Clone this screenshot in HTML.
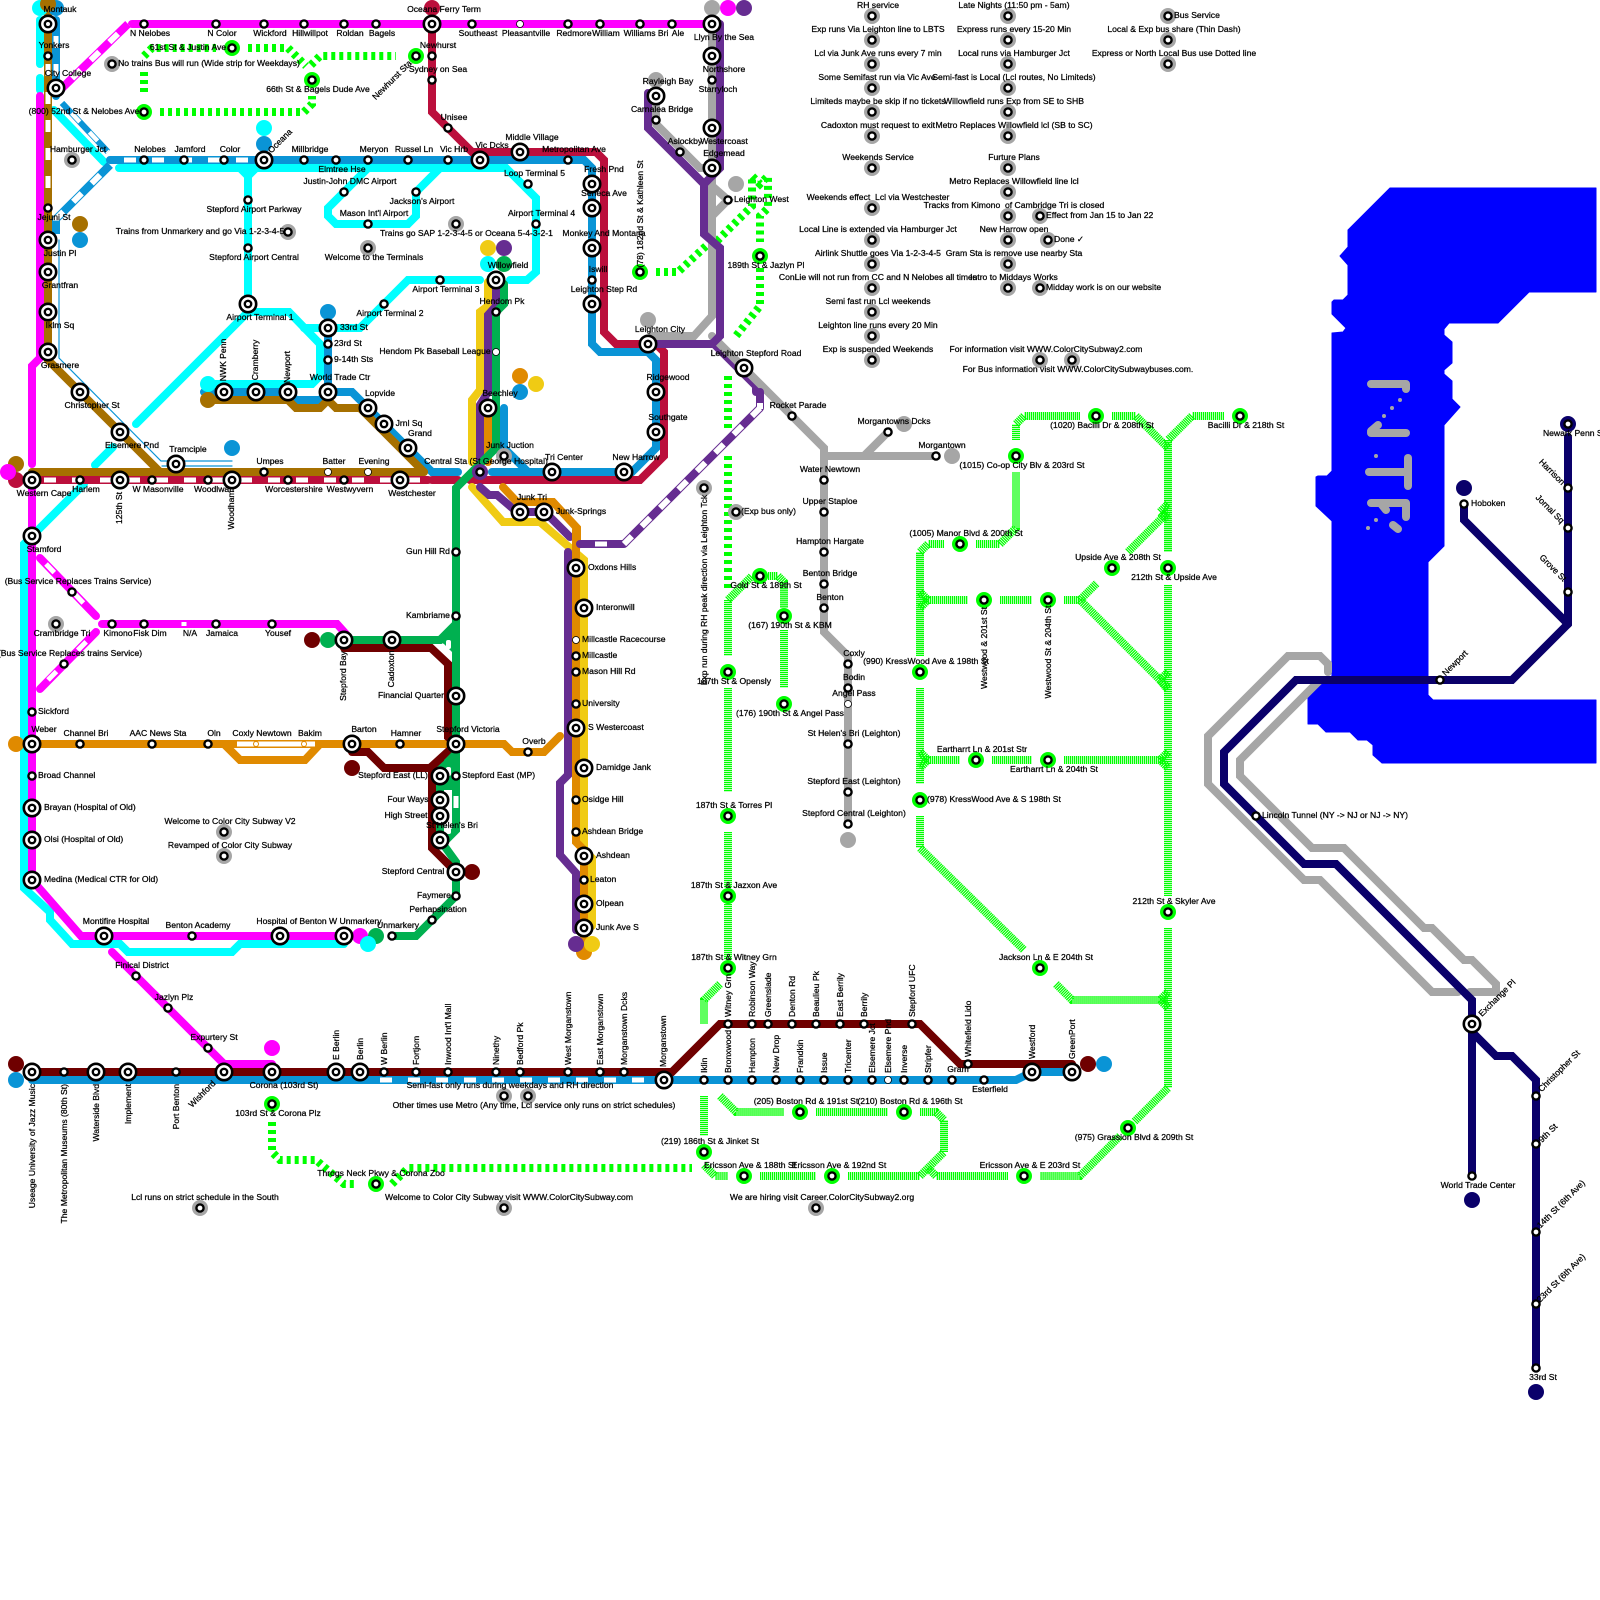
<!DOCTYPE html>
<html><head><meta charset="utf-8"><title>Color City Subway</title>
<style>
html,body{margin:0;padding:0;background:#fff}
svg{display:block}
text{font-family:"Liberation Sans",Arial,sans-serif;font-size:8.6px;fill:#000;stroke:#000;stroke-width:.25;text-anchor:middle}
.s{text-anchor:start}.e{text-anchor:end}
.l path,.l polyline{fill:none;stroke-linecap:round;stroke-linejoin:miter;stroke-width:8}
.d path{fill:none;stroke:#0f0;stroke-width:8;stroke-dasharray:4 4}
.f path{fill:none;stroke:#0f0;stroke-width:8;stroke-dasharray:1.3 .7}
.w path{fill:none;stroke:#fff;stroke-width:5;stroke-dasharray:12 16}
.t path{fill:none;stroke-width:6.4}
</style></head><body>
<svg xmlns="http://www.w3.org/2000/svg" width="1600" height="1600" viewBox="0 0 1600 1600">
<defs>
<g id="b"><circle r="8.2" fill="#fff" stroke="#000" stroke-width="2.6"/><circle r="3.2" fill="#fff" stroke="#000" stroke-width="2.4"/></g>
<g id="m"><circle r="3.6" fill="#fff" stroke="#000" stroke-width="2.4"/></g>
<g id="o"><circle r="3.5" fill="#fff" stroke="#000" stroke-width=".8"/></g>
<g id="g"><circle r="8" fill="#0f0"/><circle r="3.6" fill="#fff" stroke="#000" stroke-width="2.4"/></g>
<g id="a"><circle r="8" fill="#a6a6a6"/><circle r="3.6" fill="#fff" stroke="#000" stroke-width="2.4"/></g>
</defs>
<rect width="1600" height="1600" fill="#fff"/>

<!-- water -->
<path fill="#0000ff" stroke="#0000ff" stroke-width="1" stroke-linejoin="round" d="M1390 188H1596V292H1529L1498 323H1449L1444 329V335L1452 342V363L1444 370V374L1452 381V399L1460 407L1444 425V546L1428 562V695L1433 700H1596V763H1392L1382 763L1373 755V745L1367 740H1358L1350 732H1326L1318 724H1308V693L1317 684L1332 676V521L1316 506V477L1318 476H1327L1332 471V333L1343 332L1346 328L1332 314V302L1334 300H1343L1348 295V265L1340 256L1348 247V230Z"/>
<g fill="none" stroke="#a6a6a6" stroke-width="8" stroke-linejoin="round" stroke-linecap="round">
<path d="M1371 384H1406V389"/><path d="M1371 433H1406"/><path d="M1371 431L1378 425"/>
<path d="M1369 472H1407"/><path d="M1408 458V486"/><path d="M1371 503H1406V517"/><path d="M1382 505L1386 510"/><path d="M1393 525L1398 529"/>
</g>
<g fill="#a6a6a6"><circle cx="1400" cy="400" r="2"/><circle cx="1392" cy="408" r="2"/><circle cx="1384" cy="416" r="2"/><circle cx="1376" cy="456" r="2"/><circle cx="1376" cy="520" r="2"/><circle cx="1368" cy="528" r="2"/></g>

<!-- dotted / hatched -->
<g class="f">
<path d="M1016 440V424L1024 416H1080"/><path d="M1112 416H1136L1168 448"/><path d="M1224 416H1192L1168 440V552"/><path d="M1168 585V896"/><path d="M1168 928V1088L1134 1122"/>
<path d="M1120 1136L1080 1176H1040"/><path d="M1008 1176H936L928 1168"/><path d="M848 1176H920L944 1152V1120L936 1112H920"/><path d="M760 1176H816"/>
<path d="M704 1165L715 1176H728"/><path d="M720 1096L736 1112H784"/><path d="M816 1112H888"/><path d="M704 1096V1136"/>
<path d="M944 544H928L920 552V656"/><path d="M920 688V784"/><path d="M920 816V848L1024 950"/><path d="M1056 984L1072 1000H1168"/>
<path d="M976 544H1000L1016 528V472"/><path d="M924 600H968"/><path d="M1000 600H1032"/><path d="M1064 600H1080L1097 583"/><path d="M1080 600L1168 688"/><path d="M1128 552L1168 512"/>
<path d="M920 592L928 600L920 608"/><path d="M920 752L928 760L920 768"/><path d="M1168 672L1160 680L1168 690"/><path d="M1168 504L1160 512L1168 520"/><path d="M1168 752L1160 760L1168 768"/><path d="M1168 1008L1160 1000L1168 992"/>
<path d="M924 760H960"/><path d="M992 760H1032"/><path d="M1064 760H1164"/>
<path d="M728 600V656"/><path d="M728 688V792"/><path d="M728 832V888"/><path d="M728 904V960"/><path d="M720 984L704 1000V1024"/>
<path d="M728 600L752 576"/><path d="M768 576H778L784 582V608"/><path d="M784 630V688"/>
</g>
<g class="d">
<path d="M144 56L152 48H216"/><path d="M248 48H288L306 66"/><path d="M311 65L320 56H396"/><path d="M144 72V92"/><path d="M160 112H304L312 104V96"/>
<path d="M656 272H678L706 246"/><path d="M717 241L752 206V176L760 184L768 176V208L760 216V242"/><path d="M760 268V306L736 336"/>
<path d="M728 376V428"/><path d="M728 456V588"/>
<path d="M272 1122V1152L280 1160H316L344 1184H356"/><path d="M392 1184L408 1168H692"/>
</g>

<g class="l">
<!-- purple under grey -->
<path stroke="#662d91" d="M714 344L756 386V392"/>
<!-- gray -->
<path stroke="#a6a6a6" d="M712 24V316L694 336H652"/>
<path stroke="#a6a6a6" d="M656 124L700 168H712"/>
<path stroke="#a6a6a6" d="M656 96V124"/>
<path stroke="#a6a6a6" d="M712 186L728 200L712 216"/>
<path stroke="#a6a6a6" d="M712 336L824 448V632L848 656V824"/>
<path stroke="#a6a6a6" d="M824 456H936"/>
<path stroke="#a6a6a6" d="M864 456L888 432"/>
<path stroke="#a6a6a6" d="M1328 672V664L1320 656H1288L1208 736V784L1304 880H1320L1432 992H1458"/>
<path stroke="#a6a6a6" d="M1470 992H1496V984L1472 960H1464L1432 928H1424L1344 848H1312L1240 776V760L1320 680"/>
<!-- navy -->
<path stroke="#0a006a" d="M1568 437V624L1512 680H1296L1224 752V784L1304 864H1336L1472 1000V1176"/>
<path stroke="#0a006a" d="M1464 504V520L1568 624"/>
<path stroke="#0a006a" d="M1472 1032L1496 1056H1512L1536 1080V1368"/>
<!-- cyan -->
<path stroke="#0ff" d="M40 20V64"/><path stroke="#0ff" d="M40 78V90"/>
<path stroke="#0ff" d="M119 168H506L536 198V272L527 280H510"/>
<path stroke="#0ff" d="M240 168L248 176V304"/><path stroke="#0ff" d="M256 168L248 176"/>
<path stroke="#0ff" d="M440 168L416 192V216L408 224H336L328 216V208L368 168"/>
<path stroke="#0ff" d="M248 312H289L320 344V376L312 384H208"/>
<path stroke="#0ff" d="M304 328H360L408 280H480"/>
<path stroke="#0ff" d="M36 532L84 484"/><path stroke="#0ff" d="M95 465L113 447"/><path stroke="#0ff" d="M136 424L248 312"/>
<path stroke="#0ff" d="M54 110L104 162"/>
<path stroke="#0ff" d="M32 536L24 544V888L50 912V920L72 944H120L128 952H232L240 944H344"/>
<!-- blue -->
<path stroke="#0a94d6" d="M56 20V96"/>
<path stroke="#0a94d6" d="M110 160H584L592 168V344L600 352H648L656 360V448L632 472H492"/>
<path stroke="#0a94d6" d="M328 320V392"/>
<path stroke="#0a94d6" d="M204 392H288L296 400H320L328 392H352L432 472H458"/>
<path stroke="#0a94d6" d="M504 408V448L528 472"/>
<path stroke="#0a94d6" d="M32 1080H664"/>
<path stroke="#0a94d6" d="M672 1080H1016L1032 1072H1072"/>
<path stroke="#0a94d6" d="M59 240V358L161 461H232" style="stroke-width:1.2"/>
<path stroke="#0a94d6" d="M162 466H232" style="stroke-width:1.2"/>
<!-- magenta -->
<path stroke="#f0f" d="M132 24H712"/>
<path stroke="#f0f" d="M40 96V358L32 366V464"/>
<path stroke="#f0f" d="M32 488V880L81 936H344"/>
<path stroke="#f0f" d="M40 558L96 616"/><path stroke="#f0f" d="M40 689L96 632"/>
<path stroke="#f0f" d="M102 624H337L346 634"/>
<path stroke="#f0f" d="M112 952L224 1064H272"/>
<!-- brown -->
<path stroke="#a67000" d="M48 0V360L160 472"/>
<path stroke="#a67000" d="M32 472H424"/>
<path stroke="#a67000" d="M208 400H288L296 408H320L328 400L336 408H360L424 472"/>
<!-- crimson -->
<path stroke="#bb0f3c" d="M432 24V112L472 152H596L604 160V332L616 344H656L664 352V456L640 480H470"/>
<path stroke="#bb0f3c" d="M32 480H428"/><path stroke="#bb0f3c" d="M432 480H458"/>
<!-- yellow -->
<path stroke="#f0cb14" d="M488 282V306L480 312V390L472 400V462"/>
<path stroke="#f0cb14" d="M472 487L503 522H540L584 560V850L592 858V926"/>
<!-- purple -->
<path stroke="#662d91" d="M496 288V306L488 315V392L480 405V462"/>
<path stroke="#662d91" d="M480 487L489 495H497L517 512H545L570 537"/>
<path stroke="#662d91" d="M720 24V168L704 184V234L720 248V336L712 344H656"/>
<path stroke="#662d91" d="M648 93V128L704 184"/>
<!-- orange -->
<path stroke="#e08a00" d="M488 412V462"/>
<path stroke="#e08a00" d="M503 487L517 502H553L577 528V546"/>
<path stroke="#e08a00" d="M576 530V842L584 850V952"/>
<path stroke="#e08a00" d="M32 744H504L512 752H544L560 736"/>
<path stroke="#e08a00" d="M224 744L240 760H305L320 744"/>
<!-- purple low -->
<path stroke="#662d91" d="M568 552V775L560 783V855L576 873V930"/>
<path stroke="#662d91" d="M580 544H624"/>
<path stroke="#662d91" d="M760 392V408"/>
<!-- green -->
<path stroke="#00b050" d="M504 284V304L496 312V448L456 488V640"/>
<path stroke="#00b050" d="M456 616V744L440 768V840L456 862V896L416 936H392"/>
<path stroke="#00b050" d="M456 744V830L444 842"/>
<path stroke="#00b050" d="M344 640H440L456 624"/>
<!-- dark red -->
<path stroke="#6f0000" d="M344 648H431L448 664V737L456 744"/>
<path stroke="#6f0000" d="M352 752H368L384 768H430L452 748"/>
<path stroke="#6f0000" d="M432 768V848L456 872"/>
<path stroke="#6f0000" d="M32 1072H672L720 1024H920L960 1064H1072"/>
</g>

<!-- green wedges -->
<polygon fill="#00b050" points="436,640 456,620 456,656 444,644"/>
<polygon fill="#00b050" points="444,760 456,748 456,790 444,790"/>
<rect x="446" y="640" width="5" height="9" rx="2" fill="#fff"/>
<rect x="446" y="767" width="5" height="9" rx="2" fill="#fff"/>
<rect x="446" y="826" width="5" height="8" rx="2" fill="#fff"/>

<!-- alternating dashed diagonals: colour / white with thin outline -->
<g fill="none">
<path d="M128 24L58 92" stroke="#f0f" stroke-width="8"/><path d="M128 24L58 92" stroke="#fff" stroke-width="6"/><path d="M128 24L58 92" stroke="#f0f" stroke-width="8" stroke-dasharray="14 12"/>
<path d="M760 408L624 544" stroke="#662d91" stroke-width="8"/><path d="M760 408L624 544" stroke="#fff" stroke-width="6"/><path d="M752 416L624 544" stroke="#662d91" stroke-width="8" stroke-dasharray="14 12"/>
<path d="M110 165L56 219V234" stroke="#0a94d6" stroke-width="8"/><path d="M110 165L56 219V234" stroke="#fff" stroke-width="6"/><path d="M110 165L56 219V234" stroke="#0a94d6" stroke-width="8" stroke-dasharray="14 12"/>
<path d="M62 103L108 152" stroke="#0a94d6" stroke-width="6"/><path d="M62 103L108 152" stroke="#fff" stroke-width="4.4"/><path d="M62 103L108 152" stroke="#0a94d6" stroke-width="6" stroke-dasharray="14 12"/>
</g>

<!-- white dashes -->
<g class="w">
<path d="M48 64V200"/><path d="M56 36V92"/>
<path d="M44 480H428"/>
<path d="M124 160H250"/>
<path d="M380 1080H648"/>
<path d="M595 544H607"/>
<path d="M456 796V808"/>
<path d="M184 622V626"/>
</g>
<g fill="none" stroke="#fff" stroke-width="5" stroke-dasharray="12 30">
<path d="M46 564L92 612"/><path d="M48 680L92 636"/>
</g>
<rect x="757" y="403" width="6" height="6" fill="#fff"/>
<path d="M237 744H315" stroke="#fff" stroke-width="5" fill="none"/>
<circle cx="256" cy="744" r="2.5" fill="#fff" stroke="#e08a00"/><circle cx="304" cy="744" r="2.5" fill="#fff" stroke="#e08a00"/>

<!-- terminals -->
<g>
<circle cx="40" cy="8" r="8" fill="#0ff"/><circle cx="56" cy="8" r="8" fill="#0a94d6"/><circle cx="48" cy="4" r="8" fill="#a67000"/>
<circle cx="432" cy="8" r="8" fill="#bb0f3c"/><circle cx="712" cy="8" r="8" fill="#a6a6a6"/><circle cx="728" cy="8" r="8" fill="#f0f"/><circle cx="744" cy="8" r="8" fill="#662d91"/>
<circle cx="264" cy="128" r="8" fill="#0ff"/><circle cx="264" cy="144" r="8" fill="#0a94d6"/>
<circle cx="80" cy="224" r="8" fill="#a67000"/><circle cx="80" cy="240" r="8" fill="#0a94d6"/>
<circle cx="328" cy="312" r="8" fill="#0a94d6"/>
<circle cx="208" cy="384" r="8" fill="#0ff"/><circle cx="208" cy="400" r="8" fill="#a67000"/>
<circle cx="232" cy="448" r="8" fill="#0a94d6"/>
<circle cx="520" cy="376" r="8" fill="#e08a00"/><circle cx="536" cy="384" r="8" fill="#f0cb14"/><circle cx="520" cy="392" r="8" fill="#0a94d6"/>
<circle cx="488" cy="248" r="8" fill="#f0cb14"/><circle cx="504" cy="248" r="8" fill="#662d91"/><circle cx="488" cy="264" r="8" fill="#0ff"/><circle cx="504" cy="264" r="8" fill="#00b050"/>
<circle cx="16" cy="464" r="8" fill="#a67000"/><circle cx="16" cy="480" r="8" fill="#bb0f3c"/><circle cx="8" cy="472" r="8" fill="#f0f"/>
<circle cx="16" cy="744" r="8" fill="#e08a00"/>
<circle cx="312" cy="640" r="8" fill="#6f0000"/><circle cx="328" cy="640" r="8" fill="#00b050"/>
<circle cx="352" cy="768" r="8" fill="#6f0000"/><circle cx="472" cy="872" r="8" fill="#6f0000"/>
<circle cx="360" cy="936" r="8" fill="#f0f"/><circle cx="376" cy="936" r="8" fill="#00b050"/><circle cx="368" cy="944" r="8" fill="#0ff"/>
<circle cx="16" cy="1064" r="8" fill="#6f0000"/><circle cx="16" cy="1080" r="8" fill="#0a94d6"/>
<circle cx="272" cy="1048" r="8" fill="#f0f"/>
<circle cx="1088" cy="1064" r="8" fill="#6f0000"/><circle cx="1104" cy="1064" r="8" fill="#0a94d6"/>
<circle cx="656" cy="80" r="8" fill="#a6a6a6"/><circle cx="736" cy="184" r="8" fill="#a6a6a6"/><circle cx="648" cy="320" r="8" fill="#a6a6a6"/>
<circle cx="904" cy="424" r="8" fill="#a6a6a6"/><circle cx="952" cy="456" r="8" fill="#a6a6a6"/><circle cx="848" cy="840" r="8" fill="#a6a6a6"/>
<circle cx="584" cy="952" r="8" fill="#e08a00"/><circle cx="576" cy="944" r="8" fill="#662d91"/><circle cx="592" cy="944" r="8" fill="#f0cb14"/>
<circle cx="480" cy="472" r="8" fill="#662d91"/>
<circle cx="1568" cy="424" r="8" fill="#0a006a"/><circle cx="1464" cy="488" r="8" fill="#0a006a"/><circle cx="1472" cy="1200" r="8" fill="#0a006a"/><circle cx="1536" cy="1392" r="8" fill="#0a006a"/>
</g>

<!-- big stations -->
<g>
<use href="#b" x="48" y="24"/><use href="#b" x="56" y="88"/><use href="#b" x="48" y="240"/><use href="#b" x="48" y="272"/><use href="#b" x="48" y="312"/><use href="#b" x="48" y="352"/><use href="#b" x="80" y="392"/><use href="#b" x="120" y="432"/><use href="#b" x="176" y="464"/><use href="#b" x="32" y="480"/><use href="#b" x="120" y="480"/><use href="#b" x="232" y="480"/><use href="#b" x="400" y="480"/><use href="#b" x="32" y="536"/>
<use href="#b" x="432" y="24"/><use href="#b" x="712" y="24"/><use href="#b" x="712" y="56"/><use href="#b" x="712" y="128"/><use href="#b" x="712" y="168"/><use href="#b" x="656" y="96"/>
<use href="#b" x="264" y="160"/><use href="#b" x="480" y="160"/><use href="#b" x="520" y="152"/><use href="#b" x="248" y="304"/><use href="#b" x="328" y="328"/><use href="#b" x="224" y="392"/><use href="#b" x="256" y="392"/><use href="#b" x="288" y="392"/><use href="#b" x="328" y="392"/><use href="#b" x="368" y="408"/><use href="#b" x="384" y="424"/><use href="#b" x="408" y="448"/>
<use href="#b" x="496" y="280"/><use href="#b" x="488" y="408"/><use href="#b" x="520" y="512"/><use href="#b" x="544" y="512"/><use href="#b" x="552" y="472"/><use href="#b" x="624" y="472"/>
<use href="#b" x="592" y="184"/><use href="#b" x="592" y="208"/><use href="#b" x="592" y="248"/><use href="#b" x="592" y="304"/><use href="#b" x="648" y="344"/><use href="#b" x="656" y="392"/><use href="#b" x="656" y="432"/><use href="#b" x="744" y="368"/>
<use href="#b" x="576" y="568"/><use href="#b" x="584" y="608"/><use href="#b" x="576" y="728"/><use href="#b" x="584" y="768"/><use href="#b" x="584" y="856"/><use href="#b" x="584" y="904"/><use href="#b" x="584" y="928"/>
<use href="#b" x="344" y="640"/><use href="#b" x="392" y="640"/><use href="#b" x="456" y="696"/><use href="#b" x="32" y="744"/><use href="#b" x="352" y="744"/><use href="#b" x="456" y="744"/><use href="#b" x="440" y="776"/><use href="#b" x="440" y="800"/><use href="#b" x="440" y="816"/><use href="#b" x="440" y="840"/><use href="#b" x="456" y="872"/>
<use href="#b" x="32" y="808"/><use href="#b" x="32" y="840"/><use href="#b" x="32" y="880"/><use href="#b" x="104" y="936"/><use href="#b" x="280" y="936"/><use href="#b" x="344" y="936"/>
<use href="#b" x="32" y="1072"/><use href="#b" x="96" y="1072"/><use href="#b" x="128" y="1072"/><use href="#b" x="224" y="1072"/><use href="#b" x="272" y="1072"/><use href="#b" x="336" y="1072"/><use href="#b" x="360" y="1072"/><use href="#b" x="664" y="1080"/><use href="#b" x="1032" y="1072"/><use href="#b" x="1072" y="1072"/><use href="#b" x="1472" y="1024"/>
</g>
<!-- small stations -->
<g>
<use href="#m" x="48" y="56"/><use href="#m" x="48" y="208"/><use href="#m" x="144" y="24"/><use href="#m" x="216" y="24"/><use href="#m" x="264" y="24"/><use href="#m" x="304" y="24"/><use href="#m" x="344" y="24"/><use href="#m" x="376" y="24"/><use href="#m" x="472" y="24"/><use href="#o" x="520" y="24"/><use href="#m" x="568" y="24"/><use href="#m" x="600" y="24"/><use href="#m" x="640" y="24"/><use href="#m" x="672" y="24"/>
<use href="#m" x="432" y="56"/><use href="#m" x="432" y="80"/><use href="#m" x="448" y="128"/><use href="#m" x="712" y="80"/><use href="#m" x="656" y="120"/><use href="#m" x="680" y="152"/><use href="#m" x="728" y="200"/><use href="#m" x="568" y="160"/>
<use href="#m" x="144" y="160"/><use href="#m" x="184" y="160"/><use href="#m" x="224" y="160"/><use href="#m" x="304" y="160"/><use href="#m" x="336" y="160"/><use href="#m" x="368" y="160"/><use href="#m" x="408" y="160"/><use href="#m" x="448" y="160"/>
<use href="#m" x="528" y="184"/><use href="#m" x="536" y="224"/><use href="#m" x="344" y="192"/><use href="#m" x="416" y="192"/><use href="#m" x="368" y="224"/><use href="#m" x="248" y="200"/><use href="#m" x="248" y="248"/><use href="#m" x="384" y="304"/><use href="#m" x="440" y="280"/><use href="#m" x="328" y="344"/><use href="#m" x="328" y="360"/><use href="#m" x="496" y="312"/><use href="#o" x="496" y="352"/><use href="#m" x="592" y="280"/>
<use href="#m" x="80" y="480"/><use href="#m" x="152" y="480"/><use href="#m" x="208" y="480"/><use href="#m" x="264" y="472"/><use href="#m" x="288" y="480"/><use href="#o" x="328" y="472"/><use href="#m" x="344" y="480"/><use href="#o" x="368" y="472"/><use href="#m" x="480" y="472"/>
<use href="#m" x="792" y="416"/><use href="#m" x="888" y="432"/><use href="#m" x="936" y="456"/><use href="#m" x="824" y="480"/><use href="#m" x="824" y="512"/><use href="#m" x="824" y="552"/><use href="#m" x="824" y="584"/><use href="#m" x="824" y="608"/><use href="#m" x="848" y="664"/><use href="#m" x="848" y="688"/><use href="#o" x="848" y="704"/><use href="#m" x="848" y="744"/><use href="#m" x="848" y="792"/><use href="#m" x="848" y="824"/>
<use href="#o" x="576" y="640"/><use href="#m" x="576" y="656"/><use href="#m" x="576" y="672"/><use href="#m" x="576" y="704"/><use href="#m" x="576" y="800"/><use href="#m" x="576" y="832"/><use href="#m" x="584" y="880"/>
<use href="#m" x="456" y="552"/><use href="#m" x="456" y="616"/><use href="#m" x="456" y="776"/><use href="#m" x="456" y="896"/><use href="#m" x="432" y="920"/><use href="#m" x="392" y="936"/>
<use href="#m" x="72" y="592"/><use href="#m" x="64" y="664"/><use href="#m" x="112" y="624"/><use href="#m" x="144" y="624"/><use href="#m" x="216" y="624"/><use href="#m" x="272" y="624"/><use href="#m" x="32" y="712"/><use href="#m" x="32" y="776"/>
<use href="#m" x="80" y="744"/><use href="#m" x="152" y="744"/><use href="#m" x="208" y="744"/><use href="#m" x="400" y="744"/><use href="#m" x="528" y="752"/>
<use href="#m" x="192" y="936"/><use href="#m" x="136" y="976"/><use href="#m" x="168" y="1008"/><use href="#m" x="208" y="1048"/>
<use href="#m" x="64" y="1072"/><use href="#m" x="176" y="1072"/><use href="#m" x="384" y="1072"/><use href="#m" x="416" y="1072"/><use href="#m" x="448" y="1072"/><use href="#m" x="496" y="1072"/><use href="#m" x="520" y="1072"/><use href="#m" x="568" y="1072"/><use href="#m" x="600" y="1072"/><use href="#m" x="624" y="1072"/>
<use href="#m" x="728" y="1024"/><use href="#m" x="752" y="1024"/><use href="#m" x="768" y="1024"/><use href="#m" x="792" y="1024"/><use href="#m" x="816" y="1024"/><use href="#m" x="840" y="1024"/><use href="#m" x="864" y="1024"/><use href="#m" x="912" y="1024"/><use href="#m" x="968" y="1064"/>
<use href="#m" x="704" y="1080"/><use href="#m" x="728" y="1080"/><use href="#m" x="752" y="1080"/><use href="#m" x="776" y="1080"/><use href="#m" x="800" y="1080"/><use href="#m" x="824" y="1080"/><use href="#m" x="848" y="1080"/><use href="#m" x="872" y="1080"/><use href="#o" x="888" y="1080"/><use href="#m" x="904" y="1080"/><use href="#m" x="928" y="1080"/><use href="#m" x="952" y="1080"/><use href="#m" x="984" y="1080"/>
<use href="#m" x="1568" y="424"/><use href="#m" x="1568" y="488"/><use href="#m" x="1568" y="528"/><use href="#m" x="1568" y="592"/><use href="#m" x="1464" y="504"/><use href="#m" x="1440" y="680"/><use href="#m" x="1256" y="816"/><use href="#m" x="1472" y="1176"/><use href="#m" x="1536" y="1096"/><use href="#m" x="1536" y="1144"/><use href="#m" x="1536" y="1232"/><use href="#m" x="1536" y="1304"/><use href="#m" x="1536" y="1368"/>
</g>
<!-- green stations -->
<g>
<use href="#g" x="232" y="48"/><use href="#g" x="144" y="112"/><use href="#g" x="312" y="80"/><use href="#g" x="416" y="56"/><use href="#g" x="640" y="272"/><use href="#g" x="760" y="256"/><use href="#g" x="760" y="576"/><use href="#g" x="784" y="616"/><use href="#g" x="784" y="704"/><use href="#g" x="728" y="672"/><use href="#g" x="728" y="816"/><use href="#g" x="728" y="896"/><use href="#g" x="728" y="968"/>
<use href="#g" x="272" y="1104"/><use href="#g" x="376" y="1184"/><use href="#g" x="704" y="1152"/><use href="#g" x="744" y="1176"/><use href="#g" x="832" y="1176"/><use href="#g" x="800" y="1112"/><use href="#g" x="904" y="1112"/><use href="#g" x="1024" y="1176"/><use href="#g" x="1128" y="1128"/><use href="#g" x="1168" y="912"/><use href="#g" x="1040" y="968"/>
<use href="#g" x="1096" y="416"/><use href="#g" x="1240" y="416"/><use href="#g" x="1016" y="456"/><use href="#g" x="960" y="544"/><use href="#g" x="1112" y="568"/><use href="#g" x="1168" y="568"/><use href="#g" x="984" y="600"/><use href="#g" x="1048" y="600"/><use href="#g" x="920" y="672"/><use href="#g" x="976" y="760"/><use href="#g" x="1048" y="760"/><use href="#g" x="920" y="800"/>
</g>
<!-- gray legend stations -->
<g>
<use href="#a" x="872" y="16"/><use href="#a" x="872" y="40"/><use href="#a" x="872" y="64"/><use href="#a" x="872" y="88"/><use href="#a" x="872" y="112"/><use href="#a" x="872" y="136"/><use href="#a" x="872" y="168"/><use href="#a" x="872" y="208"/><use href="#a" x="872" y="240"/><use href="#a" x="872" y="264"/><use href="#a" x="872" y="288"/><use href="#a" x="872" y="312"/><use href="#a" x="872" y="336"/><use href="#a" x="872" y="360"/>
<use href="#a" x="1008" y="16"/><use href="#a" x="1008" y="40"/><use href="#a" x="1008" y="64"/><use href="#a" x="1008" y="88"/><use href="#a" x="1008" y="112"/><use href="#a" x="1008" y="136"/><use href="#a" x="1008" y="168"/><use href="#a" x="1008" y="192"/><use href="#a" x="1008" y="216"/><use href="#a" x="1008" y="240"/><use href="#a" x="1008" y="264"/><use href="#a" x="1008" y="288"/>
<use href="#a" x="1040" y="216"/><use href="#a" x="1048" y="240"/><use href="#a" x="1040" y="288"/><use href="#a" x="1040" y="360"/><use href="#a" x="1072" y="360"/><use href="#a" x="1168" y="16"/><use href="#a" x="1168" y="40"/><use href="#a" x="1168" y="64"/>
<use href="#a" x="72" y="160"/><use href="#a" x="112" y="64"/><use href="#a" x="288" y="232"/><use href="#a" x="456" y="224"/><use href="#a" x="368" y="248"/><use href="#a" x="504" y="456"/><use href="#a" x="736" y="512"/><use href="#a" x="704" y="488"/><use href="#a" x="56" y="624"/><use href="#a" x="224" y="832"/><use href="#a" x="224" y="856"/><use href="#a" x="504" y="1096"/><use href="#a" x="528" y="1096"/><use href="#a" x="200" y="1208"/><use href="#a" x="504" y="1208"/><use href="#a" x="816" y="1208"/>
</g>

<!-- labels -->
<g>
<text x="60" y="12">Montauk</text><text x="150" y="36">N Nelobes</text><text x="222" y="36">N Color</text><text x="270" y="36">Wickford</text><text x="310" y="36">Hillwillpot</text><text x="350" y="36">Roldan</text><text x="382" y="36">Bagels</text><text x="444" y="12">Oceana Ferry Term</text><text x="478" y="36">Southeast</text><text x="526" y="36">Pleasantville</text><text x="574" y="36">Redmore</text><text x="606" y="36">William</text><text x="646" y="36">Williams Bri</text><text x="678" y="36">Ale</text>
<text x="724" y="40">Llyn By the Sea</text><text x="724" y="72">Northshore</text><text x="718" y="92">Starryloch</text><text x="668" y="84">Rayleigh Bay</text><text x="662" y="112">Carnalea Bridge</text><text x="685" y="144">Aslockby</text><text x="724" y="144">Westercoast</text><text x="724" y="156">Edgemead</text><text class="s" x="734" y="202">Leighton West</text>
<text x="604" y="172">Fresh Pnd</text><text x="604" y="196">Seneca Ave</text><text x="604" y="236">Monkey And Montana</text><text x="598" y="272">Iswill</text><text x="604" y="292">Leighton Step Rd</text><text x="660" y="332">Leighton City</text><text x="756" y="356">Leighton Stepford Road</text><text x="668" y="380">Ridgewood</text><text x="668" y="420">Southgate</text><text x="564" y="460">Tri Center</text><text x="636" y="460">New Harrow</text><text x="798" y="408">Rocket Parade</text><text x="894" y="424">Morgantowns Dcks</text><text x="942" y="448">Morgantown</text><text x="830" y="472">Water Newtown</text><text x="830" y="504">Upper Staploe</text><text class="s" x="556" y="514">Junk-Springs</text><text x="766" y="268">189th St &amp; Jazlyn Pl</text>
<text transform="translate(643 214) rotate(-90)">(78) 182nd St &amp; Kathleen St</text>
<text transform="translate(707 590) rotate(-90)">Exp run during RH peak direction via Leighton Tck</text>
<text x="574" y="152">Metropolitan Ave</text><text x="532" y="140">Middle Village</text><text class="s" x="741" y="514">(Exp bus only)</text>

<text x="878" y="8">RH service</text><text x="878" y="32">Exp runs Via Leighton line to LBTS</text><text x="878" y="56">Lcl via Junk Ave runs every 7 min</text><text x="877" y="80">Some Semifast run via Vic Ave</text><text x="878" y="104">Limiteds maybe be skip if no tickets</text><text x="878" y="128">Cadoxton must request to exit</text><text x="878" y="160">Weekends Service</text><text x="878" y="200">Weekends effect&#160;&#160;Lcl via Westchester</text><text x="878" y="232">Local Line is extended via Hamburger Jct</text><text x="878" y="256">Airlink Shuttle goes Via 1-2-3-4-5</text><text x="878" y="280">ConLie will not run from CC and N Nelobes all times</text><text x="878" y="304">Semi fast run Lcl weekends</text><text x="878" y="328">Leighton line runs every 20 Min</text><text x="878" y="352">Exp is suspended Weekends</text>
<text x="1014" y="8">Late Nights (11:50 pm - 5am)</text><text x="1014" y="32">Express runs every 15-20 Min</text><text x="1014" y="56">Local runs via Hamburger Jct</text><text x="1014" y="80">Semi-fast is Local (Lcl routes, No Limiteds)</text><text x="1014" y="104">Willowfield runs Exp from SE to SHB</text><text x="1014" y="128">Metro Replaces Willowfield lcl (SB to SC)</text><text x="1014" y="160">Furture Plans</text><text x="1014" y="184">Metro Replaces Willowfield line lcl</text><text x="1014" y="208">Tracks from Kimono&#160;&#160;of Cambridge Tri is closed</text><text x="1014" y="232">New Harrow open</text><text x="1014" y="256">Gram Sta is remove use nearby Sta</text><text x="1014" y="280">Intro to Middays Works</text>
<text class="s" x="1046" y="218">Effect from Jan 15 to Jan 22</text><text class="s" x="1054" y="242">Done ✓</text><text class="s" x="1046" y="290">Midday work is on our website</text><text x="1046" y="352">For information visit WWW.ColorCitySubway2.com</text><text x="1078" y="372">For Bus information visit WWW.ColorCitySubwaybuses.com.</text>
<text class="s" x="1174" y="18">Bus Service</text><text x="1174" y="32">Local &amp; Exp bus share (Thin Dash)</text><text x="1174" y="56">Express or North Local Bus use Dotted line</text>

<text x="54" y="48">Yonkers</text><text x="68" y="76">City College</text><text x="84" y="114">(800) 52nd St &amp; Nelobes Ave</text><text x="78" y="152">Hamburger Jct</text><text x="150" y="152">Nelobes</text><text x="190" y="152">Jamford</text><text x="230" y="152">Color</text><text transform="translate(282 143) rotate(-45)">Oceana</text><text x="310" y="152">Millbridge</text><text x="374" y="152">Meryon</text><text x="414" y="152">Russel Ln</text><text x="454" y="152">Vic Hrb</text><text x="492" y="148">Vic Dcks</text><text x="454" y="120">Unisee</text><text x="438" y="48">Newhurst</text><text x="438" y="72">Sydney on Sea</text><text transform="translate(394 82) rotate(-45)">Newhurst Sta</text>
<text x="188" y="50">61st St &amp; Justin Ave</text><text x="209" y="66">No trains Bus will run (Wide strip for Weekdays)</text><text x="318" y="92">66th St &amp; Bagels Dude Ave</text>
<text x="342" y="172">Elmtree Hse</text><text x="350" y="184">Justin-John DMC Airport</text><text x="422" y="204">Jackson's Airport</text><text x="374" y="216">Mason Int'l Airport</text><text class="s" x="504" y="176">Loop Terminal 5</text><text class="s" x="508" y="216">Airport Terminal 4</text><text class="s" x="380" y="236">Trains go SAP 1-2-3-4-5 or Oceana 5-4-3-2-1</text><text x="374" y="260">Welcome to the Terminals</text><text x="254" y="212">Stepford Airport Parkway</text><text x="200" y="234">Trains from Unmarkery and go Via 1-2-3-4-5</text><text x="254" y="260">Stepford Airport Central</text><text x="260" y="320">Airport Terminal 1</text><text x="390" y="316">Airport Terminal 2</text><text x="446" y="292">Airport Terminal 3</text><text x="508" y="268">Willowfield</text><text x="502" y="304">Hendom Pk</text><text x="435" y="354">Hendom Pk Baseball League</text>
<text class="s" x="340" y="330">33rd St</text><text class="s" x="334" y="346">23rd St</text><text class="s" x="334" y="362">9-14th Sts</text><text x="340" y="380">World Trade Ctr</text><text x="380" y="396">Lopvide</text><text x="409" y="426">Jrnl Sq</text><text x="420" y="436">Grand</text><text x="500" y="396">Beechley</text>
<text transform="translate(226 360) rotate(-90)">NWK Penn</text><text transform="translate(258 360) rotate(-90)">Cramberry</text><text transform="translate(290 367) rotate(-90)">Newport</text>
<text x="92" y="408">Christopher St</text><text x="132" y="448">Elsemere Pnd</text><text x="188" y="452">Tramciple</text><text x="270" y="464">Umpes</text><text x="334" y="464">Batter</text><text x="374" y="464">Evening</text><text x="486" y="464">Central Sta (St George Hospital)</text><text x="510" y="448">Junk Juction</text><text x="532" y="500">Junk Tri</text>
<text x="44" y="496">Western Cape</text><text x="86" y="492">Harlem</text><text transform="translate(122 508) rotate(-90)">125th St</text><text x="158" y="492">W Masonville</text><text x="214" y="492">Woodlwan</text><text transform="translate(234 510) rotate(-90)">Woodham</text><text x="294" y="492">Worcestershire</text><text x="350" y="492">Westwyvern</text><text x="412" y="496">Westchester</text>
<text x="60" y="256">Justin Pl</text><text x="60" y="288">Grantfran</text><text x="54" y="220">Jejuni St</text><text x="60" y="328">Iklm Sq</text><text x="60" y="368">Grasmere</text>

<text x="44" y="552">Stamford</text><text x="78" y="584">(Bus Service Replaces Trains Service)</text><text x="62" y="636">Crambridge Tri</text><text x="118" y="636">Kimono</text><text x="150" y="636">Fisk Dim</text><text x="190" y="636">N/A</text><text x="222" y="636">Jamaica</text><text x="278" y="636">Yousef</text><text x="70" y="656">(Bus Service Replaces trains Service)</text><text class="s" x="38" y="714">Sickford</text><text x="44" y="732">Weber</text><text x="86" y="736">Channel Bri</text><text x="158" y="736">AAC News Sta</text><text x="214" y="736">Oln</text><text x="262" y="736">Coxly Newtown</text><text x="310" y="736">Bakim</text><text x="364" y="732">Barton</text><text x="406" y="736">Hamner</text><text x="468" y="732">Stepford Victoria</text><text x="534" y="744">Overb</text>
<text class="s" x="38" y="778">Broad Channel</text><text class="s" x="44" y="810">Brayan (Hospital of Old)</text><text class="s" x="44" y="842">Olsi (Hospital of Old)</text><text class="s" x="44" y="882">Medina (Medical CTR for Old)</text><text x="230" y="824">Welcome to Color City Subway V2</text><text x="230" y="848">Revamped of Color City Subway</text>
<text x="428" y="554">Gun Hill Rd</text><text x="428" y="618">Kambriame</text><text x="411" y="698">Financial Quarter</text><text transform="translate(346 676) rotate(-90)">Stepford Bay</text><text transform="translate(394 669) rotate(-90)">Cadoxton</text><text x="393" y="778">Stepford East (LL)</text><text class="s" x="462" y="778">Stepford East (MP)</text><text x="408" y="802">Four Ways</text><text x="406" y="818">High Street</text><text x="452" y="828">St Helen's Bri</text><text x="413" y="874">Stepford Central</text><text x="434" y="898">Faymere</text><text x="438" y="912">Perhapsination</text><text x="398" y="928">Unmarkery</text><text x="116" y="924">Montifire Hospital</text><text x="198" y="928">Benton Academy</text><text x="319" y="924">Hospital of Benton W Unmarkery</text><text x="142" y="968">Finical District</text><text x="174" y="1000">Jazlyn Plz</text><text x="214" y="1040">Expurtery St</text>

<text class="s" x="588" y="570">Oxdons Hills</text><text class="s" x="596" y="610">Interonwill</text><text class="s" x="582" y="642">Millcastle Racecourse</text><text class="s" x="582" y="658">Millcastle</text><text class="s" x="582" y="674">Mason Hill Rd</text><text class="s" x="582" y="706">University</text><text class="s" x="588" y="730">S Westercoast</text><text class="s" x="596" y="770">Damidge Jank</text><text class="s" x="582" y="802">Osidge Hill</text><text class="s" x="582" y="834">Ashdean Bridge</text><text class="s" x="596" y="858">Ashdean</text><text class="s" x="590" y="882">Leaton</text><text class="s" x="596" y="906">Olpean</text><text class="s" x="596" y="930">Junk Ave S</text>
<text x="830" y="544">Hampton Hargate</text><text x="830" y="576">Benton Bridge</text><text x="830" y="600">Benton</text><text x="766" y="588">Gold St &amp; 189th St</text><text x="790" y="628">(167) 190th St &amp; KBM</text><text x="854" y="656">Coxly</text><text x="854" y="680">Bodin</text><text x="854" y="696">Angel Pass</text><text x="926" y="664">(990) KressWood Ave &amp; 198th St</text><text x="734" y="684">187th St &amp; Opensly</text><text x="790" y="716">(176) 190th St &amp; Angel Pass</text><text x="854" y="736">St Helen's Bri (Leighton)</text><text x="854" y="784">Stepford East (Leighton)</text><text x="854" y="816">Stepford Central (Leighton)</text><text x="734" y="808">187th St &amp; Torres Pl</text><text x="734" y="888">187th St &amp; Jazxon Ave</text><text x="734" y="960">187th St &amp; Witney Grn</text>
<text x="1102" y="428">(1020) Bacilli Dr &amp; 208th St</text><text x="1246" y="428">Bacilli Dr &amp; 218th St</text><text x="1022" y="468">(1015) Co-op City Blv &amp; 203rd St</text><text x="966" y="536">(1005) Manor Blvd &amp; 200th St</text><text x="1118" y="560">Upside Ave &amp; 208th St</text><text x="1174" y="580">212th St &amp; Upside Ave</text><text transform="translate(987 648) rotate(-90)">Westwood &amp; 201st St</text><text transform="translate(1051 652) rotate(-90)">Westwood St &amp; 204th St</text><text x="982" y="752">Eartharrt Ln &amp; 201st Str</text><text x="1054" y="772">Eartharrt Ln &amp; 204th St</text><text class="s" x="927" y="802">(978) KressWood Ave &amp; S 198th St</text>
<text x="1174" y="904">212th St &amp; Skyler Ave</text><text x="1046" y="960">Jackson Ln &amp; E 204th St</text><text x="958" y="1072">Gram</text><text x="990" y="1092">Esterfield</text><text x="910" y="1104">(210) Boston Rd &amp; 196th St</text><text x="806" y="1104">(205) Boston Rd &amp; 191st St</text><text x="710" y="1144">(219) 186th St &amp; Jinket St</text><text x="750" y="1168">Ericsson Ave &amp; 188th St</text><text x="839" y="1168">Ericsson Ave &amp; 192nd St</text><text x="1030" y="1168">Ericsson Ave &amp; E 203rd St</text><text x="1134" y="1140">(975) Grassion Blvd &amp; 209th St</text><text x="822" y="1200">We are hiring visit Career.ColorCitySubway2.org</text><text x="509" y="1200">Welcome to Color City Subway visit WWW.ColorCitySubway.com</text><text x="205" y="1200">Lcl runs on strict schedule in the South</text><text x="381" y="1176">Throgs Neck Pkwy &amp; Corona Zoo</text><text x="284" y="1088">Corona (103rd St)</text><text x="278" y="1116">103rd St &amp; Corona Plz</text><text x="510" y="1088">Semi-fast only runs during weekdays and RH direction</text><text x="534" y="1108">Other times use Metro (Any time, Lcl service only runs on strict schedules)</text>

<g>
<text class="s" transform="translate(339 1060) rotate(-90)">E Berlin</text><text class="s" transform="translate(363 1060) rotate(-90)">Berlin</text><text class="s" transform="translate(387 1065) rotate(-90)">W Berlin</text><text class="s" transform="translate(419 1065) rotate(-90)">Fortjom</text><text class="s" transform="translate(451 1065) rotate(-90)">Inwood Int'l Mall</text><text class="s" transform="translate(499 1065) rotate(-90)">Ninethy</text><text class="s" transform="translate(523 1065) rotate(-90)">Bedford Pk</text><text class="s" transform="translate(571 1065) rotate(-90)">West Morganstown</text><text class="s" transform="translate(603 1065) rotate(-90)">East Morganstown</text><text class="s" transform="translate(627 1065) rotate(-90)">Morganstown Dcks</text><text class="s" transform="translate(666 1067) rotate(-90)">Morganstown</text>
<text class="s" transform="translate(731 1017) rotate(-90)">Witney Grn</text><text class="s" transform="translate(755 1017) rotate(-90)">Robinson Way</text><text class="s" transform="translate(771 1017) rotate(-90)">Greenslade</text><text class="s" transform="translate(795 1017) rotate(-90)">Denton Rd</text><text class="s" transform="translate(819 1017) rotate(-90)">Beaulieu Pk</text><text class="s" transform="translate(843 1017) rotate(-90)">East Berrily</text><text class="s" transform="translate(867 1017) rotate(-90)">Berrily</text><text class="s" transform="translate(915 1017) rotate(-90)">Stepford UFC</text>
<text class="s" transform="translate(707 1073) rotate(-90)">Iklin</text><text class="s" transform="translate(731 1073) rotate(-90)">Bronxwood</text><text class="s" transform="translate(755 1073) rotate(-90)">Hampton</text><text class="s" transform="translate(779 1073) rotate(-90)">New Drop</text><text class="s" transform="translate(803 1073) rotate(-90)">Frandkin</text><text class="s" transform="translate(827 1073) rotate(-90)">Issue</text><text class="s" transform="translate(851 1073) rotate(-90)">Tricenter</text><text class="s" transform="translate(875 1073) rotate(-90)">Elsemere Jct</text><text class="s" transform="translate(891 1073) rotate(-90)">Elsemere Pnd</text><text class="s" transform="translate(907 1073) rotate(-90)">Inverse</text><text class="s" transform="translate(931 1073) rotate(-90)">Stripfer</text>
<text class="s" transform="translate(971 1057) rotate(-90)">Whitefield Lido</text><text class="s" transform="translate(1035 1059) rotate(-90)">Westford</text><text class="s" transform="translate(1075 1059) rotate(-90)">GreenPort</text>
<text class="e" transform="translate(35 1084) rotate(-90)">Useage University of Jazz Music</text><text class="e" transform="translate(67 1084) rotate(-90)">The Metropolitan Museums (80th St)</text><text class="e" transform="translate(99 1084) rotate(-90)">Waterside Blvd</text><text class="e" transform="translate(131 1084) rotate(-90)">Implement</text><text class="e" transform="translate(179 1084) rotate(-90)">Port Benton</text>
<text transform="translate(204 1096) rotate(-45)">Wishford</text>
<text transform="translate(1457 665) rotate(-45)">Newport</text><text transform="translate(1499 1000) rotate(-45)">Exchange Pl</text><text class="s" x="1471" y="506">Hoboken</text><text x="1574" y="436">Newark Penn St</text><text transform="translate(1550 474) rotate(45)">Harrison</text><text transform="translate(1548 511) rotate(45)">Jornal Sq</text><text transform="translate(1551 570) rotate(45)">Grove St</text><text transform="translate(1561 1073) rotate(-45)">Christopher St</text><text transform="translate(1550 1135) rotate(-45)">9th St</text><text transform="translate(1563 1206) rotate(-45)">14th St (6th Ave)</text><text transform="translate(1563 1280) rotate(-45)">23rd St (6th Ave)</text><text x="1543" y="1380">33rd St</text><text x="1478" y="1188">World Trade Center</text><text class="s" x="1262" y="818">Lincoln Tunnel (NY -&gt; NJ or NJ -&gt; NY)</text>
</g>
</g>
</svg>
</body></html>
